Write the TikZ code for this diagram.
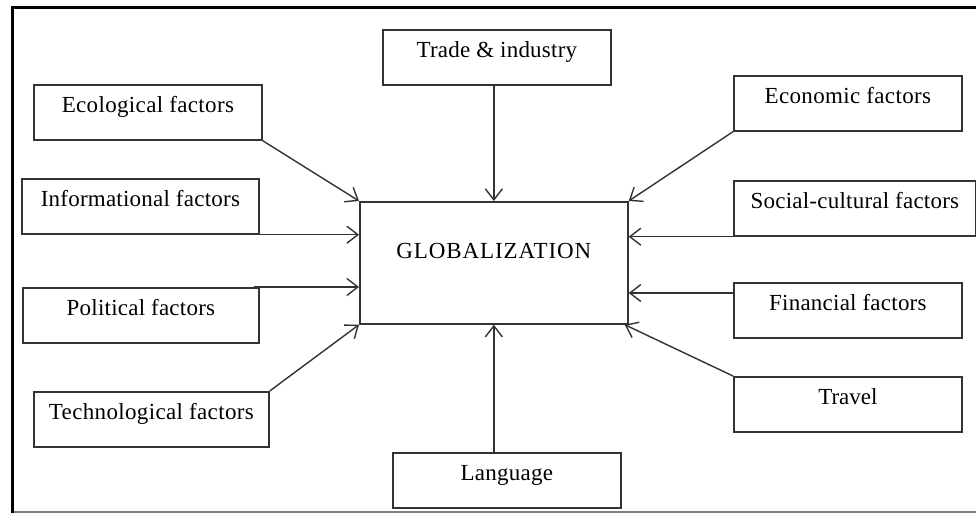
\documentclass[tikz,border=0pt]{standalone}
\usepackage{fontspec}
\setmainfont{Liberation Serif}
\usetikzlibrary{arrows.meta}

\tikzset{
  factor/.style={draw=black!80, line width=1.7pt, inner sep=0pt, anchor=north west,
    text height=28pt, text depth=27pt, minimum width=228pt, align=center},
  feed/.style={draw=black!80, line width=1.4pt, -{Straight Barb[length=11pt,width=17pt,line width=1.4pt]}}
}

\begin{document}
\begin{tikzpicture}[x=1pt,y=-1pt,font=\fontsize{23}{27}\selectfont]
        \useasboundingbox (0,0) rectangle (976,513);
        \draw[line width=3pt] (976,8) -- (12.5,8) -- (12.5,513); % outer frame
        \draw[line width=1.5pt,black!50] (14,512) -- (976,512); % bottom edge
        \node[factor, text height=57pt, text depth=65pt, minimum width=268pt] (glob) at (359,201)
        {\addfontfeature{LetterSpace=4}GLOBALIZATION}; % centre box
        \node[factor] (trade) at (382,29) {\addfontfeature{LetterSpace=1}Trade \& industry};
        \node[factor] (eco) at (33,84) {\addfontfeature{LetterSpace=1.5}Ecological factors};
        \node[factor, minimum width=237pt] (info) at (21,178) {\addfontfeature{LetterSpace=1}Informational factors};
        \node[factor, minimum width=236pt] (pol) at (22,287) {\addfontfeature{LetterSpace=1}Political factors};
        \node[factor, minimum width=235pt] (tech) at (33,391) {\addfontfeature{LetterSpace=1.5}Technological factors};
        \node[factor] (econ) at (733,75) {\addfontfeature{LetterSpace=1.5}Economic factors};
        \node[factor, minimum width=242pt] (soc) at (733,180) {\addfontfeature{LetterSpace=1}Social-cultural factors};
        \node[factor] (fin) at (733,282) {\addfontfeature{LetterSpace=1}Financial factors};
        \node[factor] (trav) at (733,376) {Travel};
        \node[factor] (lang) at (392,452) {\addfontfeature{LetterSpace=1}Language};
        \draw[feed] (glob.north |- trade.south) -- (glob.north); % top
        \draw[feed] (eco.south east) -- (glob.north west);
        \draw[feed] (info.south east) -- (info.south east -| glob.west);
        \draw[feed] ([xshift=-6pt]pol.north east) -- (pol.north east -| glob.west);
        \draw[feed] (tech.north east) -- (glob.south west);
        \draw[feed] (econ.south west) -- (glob.north east);
        \draw[feed] (soc.south west) -- (soc.south west -| glob.east);
        \draw[feed] ([yshift=-11pt]fin.north west) -- ([yshift=-11pt]fin.north west -| glob.east);
        \draw[feed] (trav.north west) -- ([xshift=-4pt]glob.south east);
        \draw[feed] (glob.south |- lang.north) -- (glob.south); % bottom
    \end{tikzpicture}
\end{document}
